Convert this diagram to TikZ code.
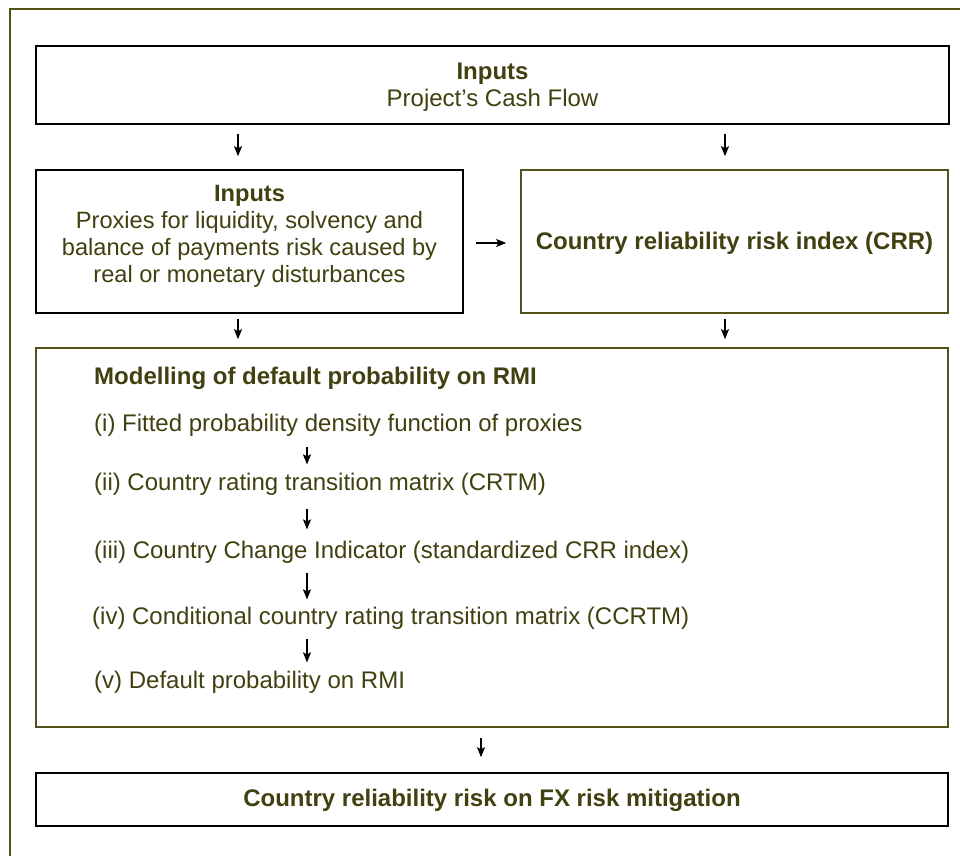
\documentclass[tikz,border=0pt]{standalone}
\usepackage{fontspec}
\setmainfont{Liberation Sans}
\usetikzlibrary{arrows.meta}
\definecolor{olivetext}{RGB}{64,64,16}
\definecolor{oliveline}{RGB}{82,82,24}
\tikzset{
  x=1pt, y=1pt,
  box/.style={draw=black, line width=1.6pt, inner sep=0pt, fill=white},
  obox/.style={draw=oliveline, line width=1.6pt, inner sep=0pt, fill=white},
  txt/.style={text=olivetext, font=\fontsize{24}{27}\selectfont, align=center, inner sep=0pt},
  item/.style={text=olivetext, font=\fontsize{24}{27}\selectfont, inner sep=0pt, anchor=base west},
  arr/.style={-{Stealth[length=10pt,width=8pt,inset=2pt]}, line width=1.5pt, black},
}
\begin{document}
\begin{tikzpicture}
\useasboundingbox (0,0) rectangle (960,855);
\fill[white] (0,0) rectangle (960,855);
% frame round the whole chart
\begin{scope}
  \clip (0,0) rectangle (960,855);
  \draw[oliveline, line width=2pt] (10,-20) -- (10,846) -- (980,846);
\end{scope}

% boxes
\node[box, minimum width=913pt, minimum height=78pt] (top) at (492.5,770) {};
\node[box, minimum width=427pt, minimum height=143pt] (left) at (249.5,613.5) {};
\node[obox, minimum width=427pt, minimum height=143pt] (right) at (734.5,613.5) {};
\node[obox, minimum width=912pt, minimum height=379pt] (big) at (492,317.5) {};
\node[box, minimum width=912pt, minimum height=53pt] (bottom) at (492,55.5) {};

% box texts
\node[txt] (toptext) at (492.5,768) {\textbf{Inputs}\\Project’s Cash Flow};
\node[txt, font=\fontsize{23.6}{27}\selectfont] (lefttext) at (249.5,619) {\textbf{Inputs}\\Proxies for liquidity, solvency and\\balance of payments risk caused by\\real or monetary disturbances};
\node[txt] (righttext) at (734.5,612) {\textbf{Country reliability risk index (CRR)}};
\node[txt] (bottomtext) at (492,55) {\textbf{Country reliability risk on FX risk mitigation}};

% steps of the model
\node[item] (title) at (94,470) {\textbf{Modelling of default probability on RMI}};
\node[item] (s1) at (94,424) {(i) Fitted probability density function of proxies};
\node[item] (s2) at (94,365) {(ii) Country rating transition matrix (CRTM)};
\node[item] (s3) at (94,297) {(iii) Country Change Indicator (standardized CRR index)};
\node[item] (s4) at (92,231) {(iv) Conditional country rating transition matrix (CCRTM)};
\node[item] (s5) at (94,167) {(v) Default probability on RMI};

% connectors
\coordinate (xl) at (238,0);
\coordinate (xr) at (725,0);
\coordinate (xs) at (307,0);
\coordinate (xb) at (481,0);
\draw[arr, shorten <=9pt, shorten >=13pt] (top.south -| xl) -- (left.north -| xl);
\draw[arr, shorten <=9pt, shorten >=13pt] (top.south -| xr) -- (right.north -| xr);
\draw[arr, shorten <=12pt, shorten >=14pt] (left.east |- 0,612) -- (right.west |- 0,612);
\draw[arr, shorten <=5pt, shorten >=8pt] (left.south -| xl) -- (big.north -| xl);
\draw[arr, shorten <=5pt, shorten >=8pt] (right.south -| xr) -- (big.north -| xr);
\draw[arr, shorten <=10pt, shorten >=15pt] (big.south -| xb) -- (bottom.north -| xb);

\draw[arr, shorten <=11pt, shorten >=8pt] (s1.south -| xs) -- (s2.north -| xs);
\draw[arr, shorten <=14pt, shorten >=11pt] (s2.south -| xs) -- (s3.north -| xs);
\draw[arr, shorten <=10pt, shorten >=7pt] (s3.south -| xs) -- (s4.north -| xs);
\draw[arr, shorten <=10pt, shorten >=8pt] (s4.south -| xs) -- (s5.north -| xs);
\end{tikzpicture}
\end{document}
